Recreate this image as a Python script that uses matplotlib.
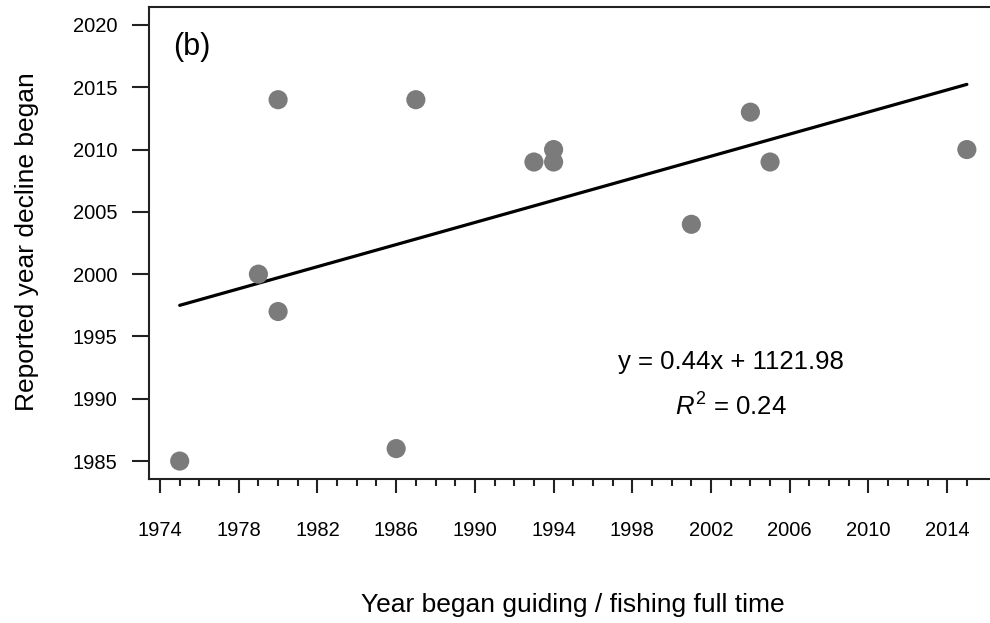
import numpy as np
import matplotlib
matplotlib.use("Agg")
import matplotlib.pyplot as plt
from matplotlib.ticker import MultipleLocator, FixedLocator

plt.rcParams["font.family"] = ["Liberation Sans", "DejaVu Sans"]
plt.rcParams["mathtext.fontset"] = "custom"
plt.rcParams["mathtext.rm"] = "Liberation Sans"
plt.rcParams["mathtext.it"] = "Liberation Sans:italic"

# year each respondent began guiding / fishing full time, and year they saw the decline start
year_began = [1975, 1979, 1980, 1980, 1986, 1987, 1993, 1994, 1994, 2001, 2004, 2005, 2015]
year_decline = [1985, 2000, 2014, 1997, 1986, 2014, 2009, 2010, 2009, 2004, 2013, 2009, 2010]

# fitted line
SLOPE = 0.4433
INTERCEPT = 1121.98
R2 = 0.24

POINT_COLOR = "#7b7b7b"
W, H = 990, 623

fig = plt.figure(figsize=(W / 100, H / 100), dpi=100)
ax = fig.add_axes([149 / W, 144 / H, 846 / W, 472 / H])

ax.scatter(year_began, year_decline, s=190, color=POINT_COLOR, edgecolors="none", zorder=3)

xs = np.array([min(year_began), max(year_began)])
ax.plot(xs, SLOPE * xs + INTERCEPT, color="black", lw=2.3, solid_capstyle="round", zorder=2)

ax.set_xlim(1973.44, 2016.43)
ax.set_ylim(1983.56, 2021.44)

ax.xaxis.set_major_locator(FixedLocator(np.arange(1974, 2015, 4)))
ax.xaxis.set_minor_locator(FixedLocator(np.arange(1974, 2016, 1)))
ax.yaxis.set_major_locator(MultipleLocator(5))

for s in ax.spines.values():
    s.set_linewidth(1.5)
    s.set_color("#222222")

ax.tick_params(axis="x", which="major", length=10, width=1.5, pad=20, labelsize=14.5, color="#222222")
ax.tick_params(axis="x", which="minor", length=5, width=1.5, color="#222222")
ax.tick_params(axis="y", which="major", length=12, width=1.5, pad=11, labelsize=14.5, color="#222222")

# axis titles placed in figure pixels
fig.text(573 / W, 1 - 605 / H, "Year began guiding / fishing full time", fontsize=19,
         ha="center", va="center")
fig.text(27 / W, 1 - 242 / H, "Reported year decline began", fontsize=19,
         ha="center", va="center", rotation=90)

ax.text((173 - 149) / 846, (479 - 47) / 472, "(b)", transform=ax.transAxes,
        fontsize=22, va="center", ha="left")

eq = f"y = {SLOPE:.2f}x + {INTERCEPT:.2f}"
ax.text(2003.0, 1992.95, eq, fontsize=18.5, ha="center", va="center")
ax.text(2003.0, 1989.3, f"$R^2$ = {R2:.2f}", fontsize=18.5, ha="center", va="center")

fig.savefig("out.png", dpi=100)
